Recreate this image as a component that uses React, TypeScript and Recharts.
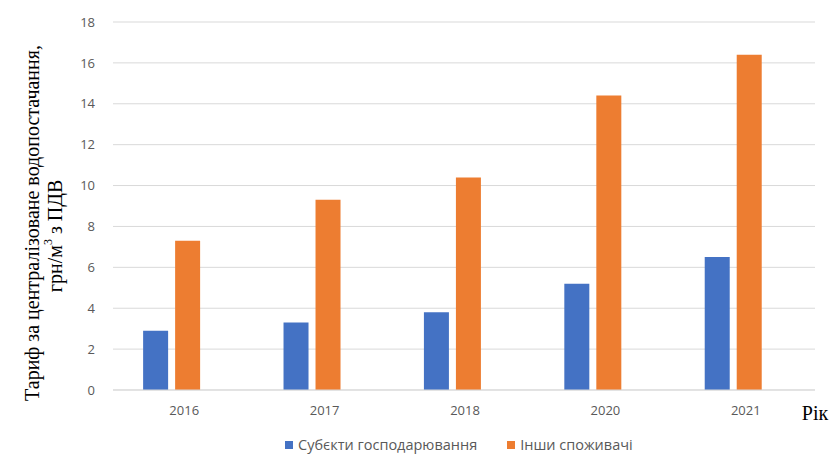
import React from 'react';
import { BarChart, Bar, XAxis, YAxis, CartesianGrid, Legend, Label } from 'recharts';

const years = ['2016', '2017', '2018', '2020', '2021'];
const businessTariff = [2.9, 3.3, 3.8, 5.2, 6.5];
const otherTariff = [7.3, 9.3, 10.4, 14.4, 16.4];
const yTicks = [0, 2, 4, 6, 8, 10, 12, 14, 16, 18];

const SERIES = [
    { key: 'business', name: 'Субєкти господарювання', color: '#4472C4' },
    { key: 'other', name: 'Інши споживачі', color: '#ED7D31' },
];

const data = years.map((year, i) => ({
    year,
    business: businessTariff[i],
    other: otherTariff[i],
}));

const TICK_STYLE = { fill: '#595959', fontSize: 13, fontFamily: 'Open Sans, sans-serif' };
const SERIF = '"Liberation Serif", "Times New Roman", serif';

const YLabel = () => (
    <g>
        <text x={32} y={223} transform="rotate(-90, 32, 223)" textAnchor="middle"
            dominantBaseline="central" fontFamily={SERIF} fontSize={20} fill="#000">
            Тариф за централізоване водопостачання,
        </text>
        <text x={55} y={236} transform="rotate(-90, 55, 236)" textAnchor="middle"
            dominantBaseline="central" fontFamily={SERIF} fontSize={20} fill="#000">
            грн/м<tspan baselineShift="super" fontSize={12}>3</tspan> з ПДВ
        </text>
    </g>
);

const LegendContent = () => (
    <div style={{ display: 'flex', alignItems: 'center', fontFamily: 'Open Sans, sans-serif', fontSize: 14.5, color: '#595959' }}>
        {SERIES.map((s, i) => (
            <div key={s.key} style={{ display: 'flex', alignItems: 'center', marginRight: i === 0 ? 30 : 0 }}>
                <span style={{ width: 8, height: 8, background: s.color, display: 'inline-block', marginRight: 5 }} />
                <span>{s.name}</span>
            </div>
        ))}
    </div>
);

export default function App() {
    return (
        <div style={{ position: 'absolute', left: 0, top: 0, background: '#fff' }}>
            <BarChart width={835} height={475} data={data}
                margin={{ top: 22, right: 20, bottom: 55, left: 0 }}
                barCategoryGap="30%" barGap={7}>
                <CartesianGrid vertical={false} stroke="#D9D9D9" />
                <XAxis dataKey="year" tickLine={false} axisLine={{ stroke: '#D9D9D9' }}
                    tick={{ ...TICK_STYLE, dx: 13 }} height={30} tickMargin={10}
                    padding={{ left: -12, right: 12 }}>
                    <Label content={() => (
                        <text x={815} y={420} textAnchor="middle" fontFamily={SERIF} fontSize={20} fill="#000">Рік</text>
                    )} />
                </XAxis>
                <YAxis domain={[0, 18]} ticks={yTicks} tickLine={false} axisLine={false}
                    tick={TICK_STYLE} width={113} tickMargin={12}>
                    <Label content={YLabel} />
                </YAxis>
                <Legend layout="horizontal" verticalAlign="middle" align="center"
                    wrapperStyle={{ top: 435, left: 285, width: 'auto' }}
                    content={LegendContent} />
                {SERIES.map(s => (
                    <Bar key={s.key} dataKey={s.key} name={s.name} fill={s.color} isAnimationActive={false} />
                ))}
            </BarChart>
        </div>
    );
}
